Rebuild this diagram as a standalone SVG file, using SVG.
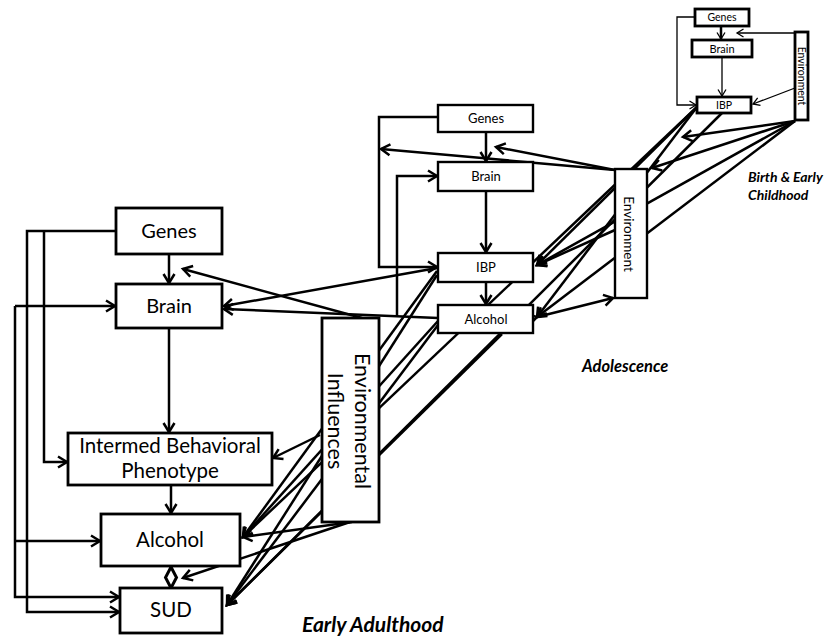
<svg xmlns="http://www.w3.org/2000/svg" width="825" height="638" viewBox="0 0 825 638">
<style>
.b{fill:#fff;stroke:#000;stroke-width:2.8}
.bm{fill:#fff;stroke:#000;stroke-width:2.4}
.t{font-family:Lato,"Open Sans","Liberation Sans",sans-serif;fill:#000;text-anchor:middle}
.l{fill:none;stroke:#000;stroke-width:2.5}
.th{fill:none;stroke:#000;stroke-width:1.3}
.lab{font-family:Lato,"Open Sans","Liberation Sans",sans-serif;font-weight:bold;font-style:italic;fill:#000}
</style>
<defs>
<marker id="a" markerUnits="userSpaceOnUse" markerWidth="14" markerHeight="14" refX="11" refY="7" orient="auto"><path d="M2,1.5 L11,7 L2,12.5" fill="none" stroke="#000" stroke-width="2.5"/></marker>
<marker id="s" markerUnits="userSpaceOnUse" markerWidth="10" markerHeight="10" refX="8" refY="5" orient="auto"><path d="M1.5,1 L8,5 L1.5,9" fill="none" stroke="#000" stroke-width="1.3"/></marker>
</defs>
<g id="connectors">
<path class="l" d="M721,26 V39" marker-end="url(#s)" stroke-width="2"/>
<path class="th" d="M795,33 H737" marker-end="url(#s)"/>
<path class="th" d="M722,57 V96" marker-end="url(#s)"/>
<path class="th" d="M695,17 H677 V105 H696" marker-end="url(#s)" stroke-width="1.6"/>
<path class="th" d="M795,88 L753,104" marker-end="url(#s)"/>
<path class="l" d="M795,121 L683,137" marker-end="url(#a)"/>
<path class="l" d="M795,121 L652,168" marker-end="url(#a)"/>
<path class="l" d="M795,121 L537,265" marker-end="url(#a)"/>
<path class="l" d="M795,121 L537,317" marker-end="url(#a)"/>
<path class="l" d="M697,107 L537,265" marker-end="url(#a)"/>
<path class="l" d="M697,107 L537,317" marker-end="url(#a)"/>
<path class="l" d="M697,107 L243,537" marker-end="url(#a)"/>
<path class="l" d="M722,113 L227,605" marker-end="url(#a)"/>
<path class="l" d="M486,132 V161" marker-end="url(#a)"/>
<path class="l" d="M486,191 V252" marker-end="url(#a)"/>
<path class="l" d="M486,282 V304" marker-end="url(#a)"/>
<path class="l" d="M438,117 H379 V267 H437" marker-end="url(#a)"/>
<path class="l" d="M397,317 V176 H437" marker-end="url(#a)"/>
<path class="l" d="M615,170 L496,147" marker-end="url(#a)"/>
<path class="l" d="M615,170 L381,149" marker-end="url(#a)"/>
<path class="l" d="M615,230 L537,265" marker-end="url(#a)"/>
<path class="l" d="M537,317 L613,298" marker-start="url(#a)" marker-end="url(#a)"/>
<path class="l" d="M437,268 L224,306" marker-end="url(#a)"/>
<path class="l" d="M438,318 L224,309" marker-end="url(#a)"/>
<path class="l" d="M437,271 L243,537" marker-end="url(#a)"/>
<path class="l" d="M437,275 L227,605" marker-end="url(#a)"/>
<path class="l" d="M438,321 L243,537" marker-end="url(#a)"/>
<path class="l" d="M438,325 L227,605" marker-end="url(#a)"/>
<path class="l" d="M502,334 L227,605" marker-end="url(#a)"/>
<path class="l" d="M169,254 V283" marker-end="url(#a)"/>
<path class="l" d="M169,328 V432" marker-end="url(#a)"/>
<path class="l" d="M171,485 V513" marker-end="url(#a)"/>
<path class="l" d="M171,567 V588"/>
<path d="M171,567 L176.5,577.5 L171,588 L165.5,577.5 Z" fill="#fff" stroke="#000" stroke-width="3"/>
<path class="l" d="M116,231 H27 V612 H119" marker-end="url(#a)"/>
<path class="l" d="M44,231 V462 H67" marker-end="url(#a)"/>
<path class="l" d="M15,306 H115" marker-end="url(#a)"/>
<path class="l" d="M15,306 V597 H119" marker-end="url(#a)"/>
<path class="l" d="M15,541 H100" marker-end="url(#a)"/>
<path class="l" d="M362,318 L183,269" marker-end="url(#a)"/>
<path class="l" d="M320,435 L273,458" marker-end="url(#a)"/>
<path class="l" d="M352,522 L243,537" marker-end="url(#a)"/>
<path class="l" d="M350,522 L183,578" marker-end="url(#a)"/>
</g>
<g id="birth-genes"><rect class="b" x="695" y="9" width="54" height="17"/><text class="t" x="722" y="21" font-size="10.5">Genes</text></g>
<g id="birth-brain"><rect class="b" x="692" y="40" width="60" height="17"/><text class="t" x="722" y="52.5" font-size="11">Brain</text></g>
<g id="birth-ibp"><rect class="b" x="697" y="97" width="54" height="16"/><text class="t" x="724" y="109" font-size="10.5">IBP</text></g>
<g id="birth-environment"><rect class="b" x="795" y="32" width="13" height="88"/><text class="t" font-size="10.5" transform="translate(797.5,76) rotate(90)">Environment</text></g>
<g id="adol-genes"><rect class="bm" x="438" y="105" width="95" height="27"/><text class="t" x="486" y="123" font-size="13">Genes</text></g>
<g id="adol-brain"><rect class="bm" x="438" y="162" width="95" height="29"/><text class="t" x="486" y="181" font-size="13">Brain</text></g>
<g id="adol-ibp"><rect class="bm" x="438" y="253" width="95" height="29"/><text class="t" x="486" y="272" font-size="13">IBP</text></g>
<g id="adol-alcohol"><rect class="bm" x="438" y="305" width="95" height="28"/><text class="t" x="486" y="323.5" font-size="13">Alcohol</text></g>
<g id="adol-environment"><rect class="bm" x="615" y="169" width="32" height="129"/><text class="t" font-size="13.5" transform="translate(624,234) rotate(90)">Environment</text></g>
<g id="adult-genes"><rect class="b" x="116" y="208" width="106" height="46"/><text class="t" x="169" y="238" font-size="20">Genes</text></g>
<g id="adult-brain"><rect class="b" x="116" y="284" width="106" height="44"/><text class="t" x="169" y="313" font-size="20">Brain</text></g>
<g id="adult-ibp"><rect class="b" x="68" y="433" width="204" height="52"/><text class="t" x="170" y="453" font-size="20.5">Intermed Behavioral</text><text class="t" x="170" y="478" font-size="20.5">Phenotype</text></g>
<g id="adult-alcohol"><rect class="b" x="101" y="514" width="139" height="52"/><text class="t" x="170" y="547" font-size="20.5">Alcohol</text></g>
<g id="adult-sud"><rect class="b" x="120" y="588" width="102" height="45"/><text class="t" x="171" y="617" font-size="20.5">SUD</text></g>
<g id="adult-environment"><rect class="b" x="322" y="318" width="57" height="204"/><text class="t" font-size="21.5" transform="translate(355,421) rotate(90)">Environmental</text><text class="t" font-size="21.5" transform="translate(328,421) rotate(90)">Influences</text></g>
<text class="lab" x="748" y="182" font-size="14">Birth &amp; Early</text>
<text class="lab" x="748" y="200" font-size="14">Childhood</text>
<text class="lab" x="582" y="372" font-size="16.5">Adolescence</text>
<text class="lab" x="302" y="632" font-size="21">Early Adulthood</text>
</svg>
